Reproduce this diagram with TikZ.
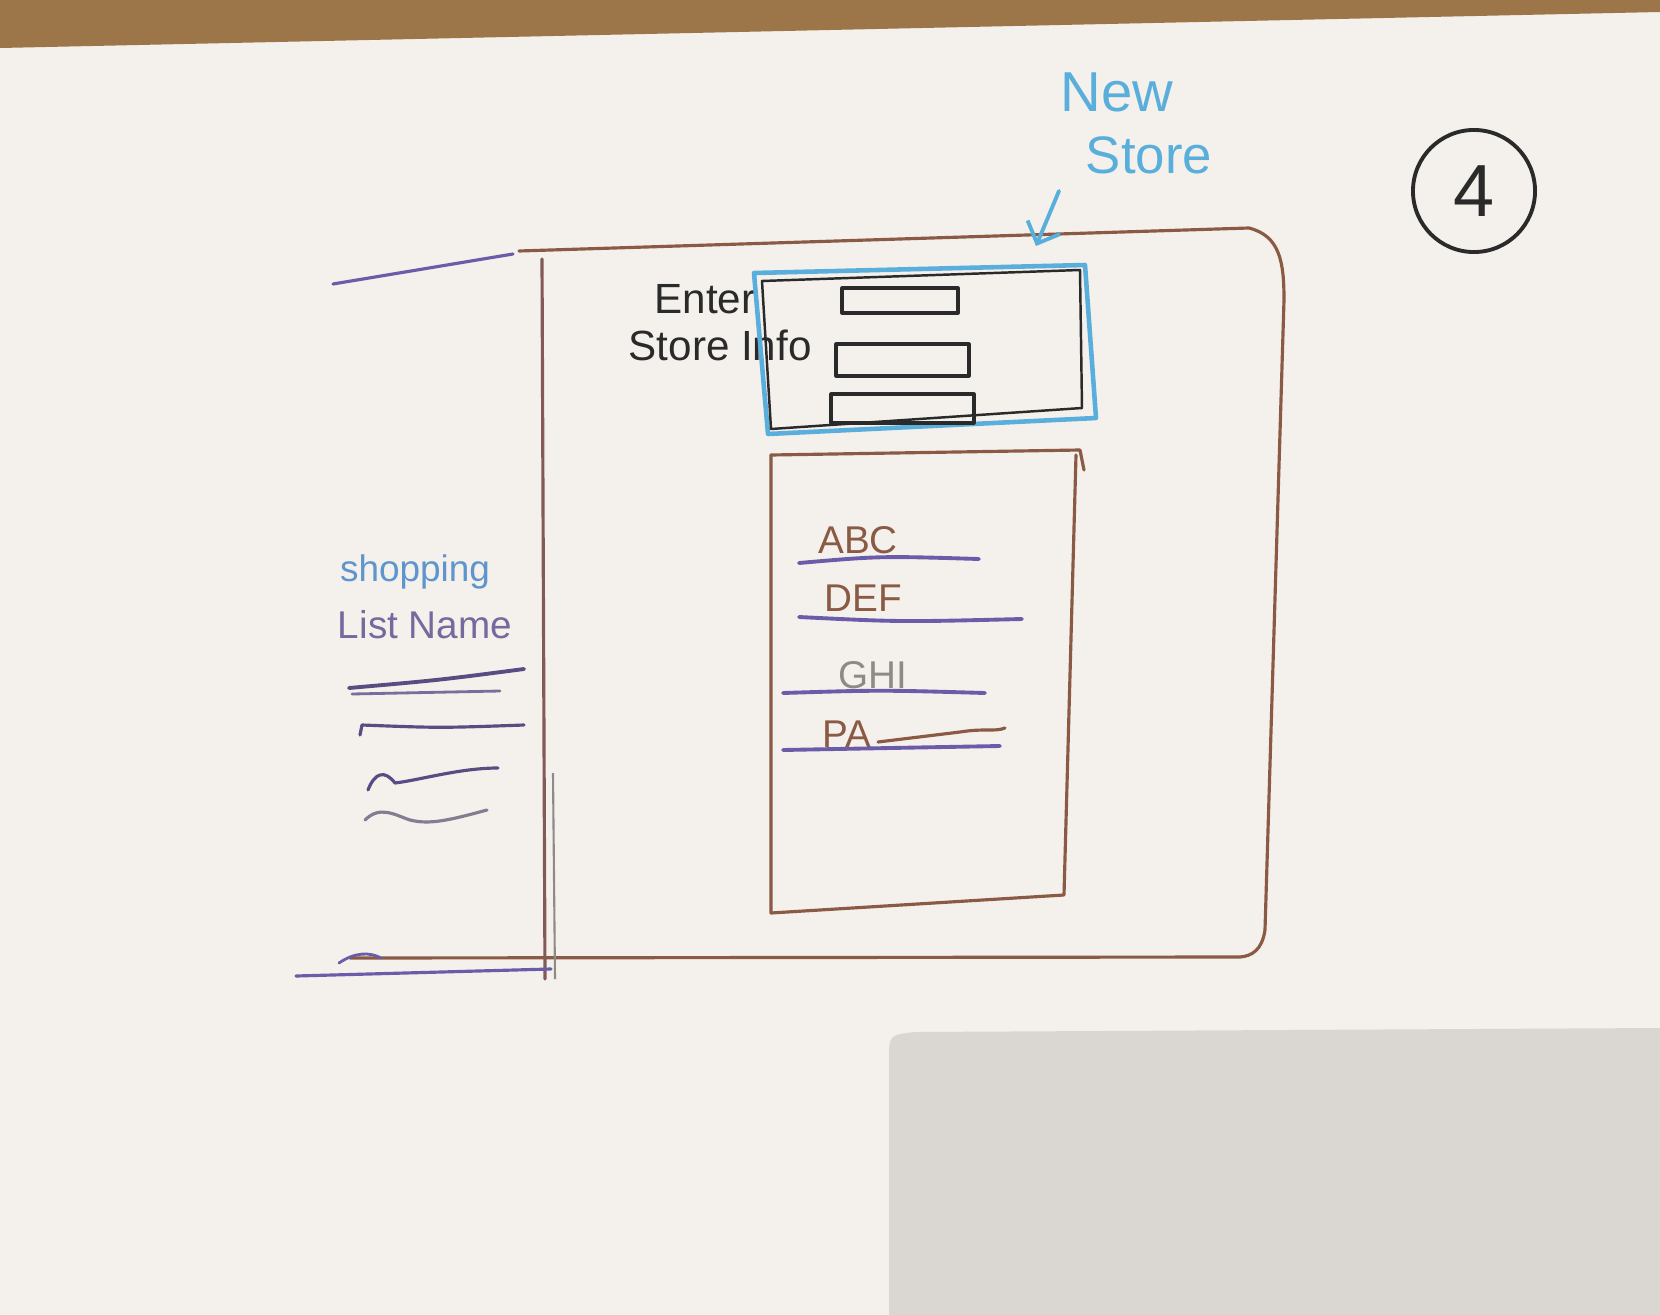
\documentclass[tikz,border=0pt]{standalone}
\usepackage{fontspec}
\setmainfont{Liberation Sans}
\usetikzlibrary{arrows.meta}
\definecolor{paper}{HTML}{F4F1EC}
\definecolor{wood}{HTML}{9C7548}
\definecolor{papershadow}{HTML}{DAD7D2}
\definecolor{brownpen}{HTML}{8A5A44}
\definecolor{purplepen}{HTML}{6A5CA8}
\definecolor{bluepen}{HTML}{5AAEDC}
\definecolor{inkblack}{HTML}{2A2A2A}
\definecolor{greypen}{HTML}{8E8A88}
\tikzset{
  brownline/.style={draw=brownpen, line width=0.9pt, line cap=round, line join=round},
  purpleline/.style={draw=purplepen, line width=1.1pt, line cap=round, line join=round},
  blueline/.style={draw=bluepen, line width=1.3pt, line cap=round, line join=round},
  blackline/.style={draw=inkblack, line width=0.9pt, line cap=round, line join=round},
  hand/.style={inner sep=0pt, anchor=center},
}
\begin{document}
\begin{tikzpicture}[x=0.01cm, y=-0.01cm]
\useasboundingbox (0,0) rectangle (1660,1315);
% paper, wood, shadow
\fill[paper] (0,0) rectangle (1660,1315);
\fill[wood] (0,0) -- (1660,0) -- (1660,12) -- (0,48) -- cycle;
\fill[papershadow] (889,1060) .. controls (889,1035) .. (915,1032) -- (1660,1028) -- (1660,1315) -- (889,1315) -- cycle;

% main frame
\draw[brownline] (519,251) -- (1249,228) .. controls (1280,236) and (1284,262) .. (1284,300)
  -- (1265,930) .. controls (1262,950) and (1252,956) .. (1240,957) -- (350,958);
\draw[brownline, draw=brownpen!80!purplepen] (542,259) -- (545,979);
\draw[draw=greypen, line width=0.6pt] (553,773) -- (555,979);
% left panel edges
\draw[purpleline, line width=0.9pt] (333,284) -- (513,254);
\draw[purpleline, line width=0.9pt] (296,976) -- (551,969);
\draw[purpleline, line width=0.8pt] (339,963) .. controls (355,952) and (370,952) .. (381,958);

% Enter Store Info
\node[hand, text=inkblack, font=\fontsize{12}{14}\selectfont] (enter) at (705,299) {Enter};
\node[hand, text=inkblack, font=\fontsize{12}{14}\selectfont, anchor=west] (storeinfo) at (628,345) {Store Info};

% new-store dialog
\draw[blueline] (754,273) -- (1085,265) -- (1096,418) -- (768,434) -- cycle;
\draw[blackline, line width=0.7pt] (762,281) -- (1080,270) -- (1082,408) -- (771,429) -- cycle;
\draw[blackline] (842,288) rectangle (958,313);
\draw[blackline] (836,344) rectangle (969,376);
\draw[blackline] (831,394) rectangle (974,423);

% store list
\draw[brownline] (771,455) -- (1080,450) -- (1084,470);
\draw[brownline] (771,455) -- (771,913) -- (1064,895) -- (1076,455);
\node[hand, text=brownpen, font=\fontsize{11}{13}\selectfont] (abc) at (858,540) {ABC};
\draw[purpleline] (799,563) .. controls (880,556) .. (979,559);
\node[hand, text=brownpen, font=\fontsize{11}{13}\selectfont] (def) at (863,598) {DEF};
\draw[purpleline] (799,617) .. controls (900,622) .. (1022,619);
\node[hand, text=greypen, font=\fontsize{11}{13}\selectfont] (ghi) at (873,675) {GHI};
\draw[purpleline] (783,693) .. controls (880,690) .. (985,693);
\node[hand, text=brownpen, font=\fontsize{11}{13}\selectfont] (pa) at (847,734) {PA};
\draw[brownline] (878,742) -- (960,732) .. controls (985,728) and (995,732) .. (1005,728);
\draw[purpleline] (783,750) .. controls (890,748) .. (1000,746);

% left panel contents
\node[hand, text=bluepen!70!purplepen, font=\fontsize{10.5}{12}\selectfont] (shop) at (415,572) {shopping};
\node[hand, text=purplepen!70!greypen, font=\fontsize{11}{13}\selectfont] (listname) at (425,625) {List Name};
\draw[purpleline, draw=purplepen!70!inkblack] (349,688) .. controls (440,680) .. (524,669);
\draw[purpleline, draw=purplepen!60!greypen, line width=0.8pt] (352,694) -- (500,691);
\draw[purpleline, draw=purplepen!70!inkblack, line width=0.9pt] (360,735) -- (362,725) .. controls (440,728) .. (524,725);
\draw[purpleline, draw=purplepen!70!inkblack, line width=0.9pt] (368,790) .. controls (375,772) and (385,770) .. (395,783) .. controls (420,780) and (460,768) .. (498,768);
\draw[purpleline, draw=greypen!70!purplepen, line width=0.9pt] (365,820) .. controls (380,805) and (395,815) .. (410,820) .. controls (430,825) and (450,820) .. (487,810);

% New Store annotation
\node[hand, text=bluepen, font=\fontsize{16}{18}\selectfont] (newlbl) at (1117,92) {New};
\node[hand, text=bluepen, font=\fontsize{15}{17}\selectfont] (storelbl) at (1149,155) {Store};
\coordinate (arrowtail) at (1059,191);
\coordinate (arrowtip) at (1036,246);
\draw[blueline, line width=1.1pt, -{Straight Barb[length=5pt]}] (arrowtail) -- (arrowtip);

% page number
\node[draw=inkblack, line width=1.1pt, circle, minimum size=1.22cm, inner sep=0pt, text=inkblack, font=\fontsize{21}{23}\selectfont] (num) at (1474,191) {4};
\end{tikzpicture}
\end{document}
